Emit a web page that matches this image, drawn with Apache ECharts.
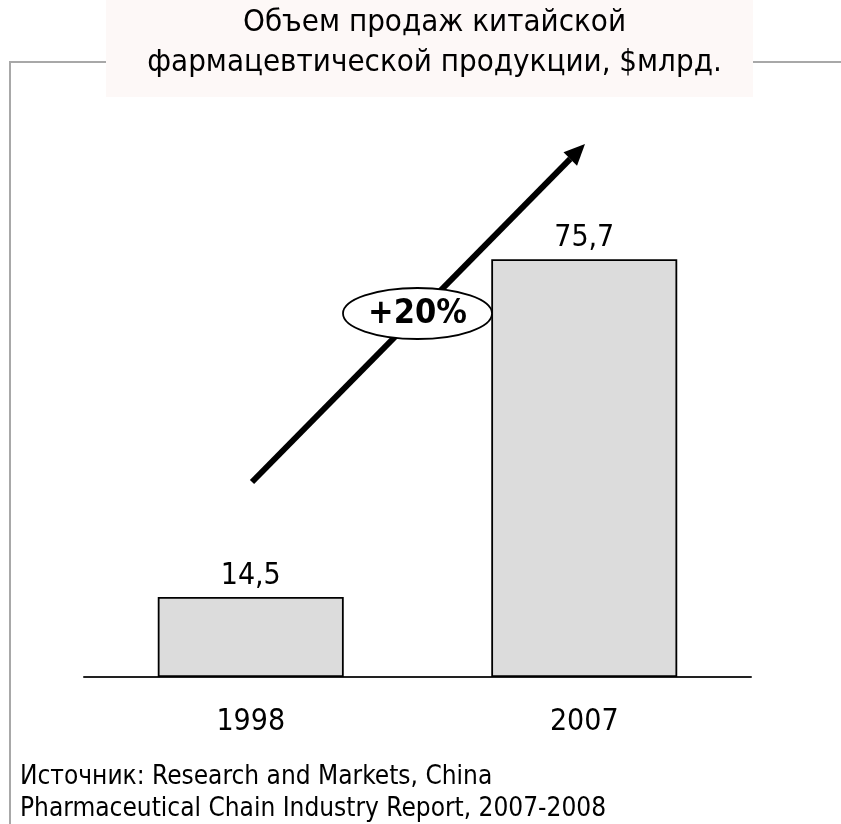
<!DOCTYPE html>
<html>
<head>
<meta charset="utf-8">
<script src="https://cdn.jsdelivr.net/npm/echarts@6/dist/echarts.min.js"></script>
<style>
html,body{margin:0;padding:0;background:#fff;}
#main{width:841px;height:824px;}
</style>
</head>
<body>
<div id="main"></div>
<script>
const categories = ['1998', '2007'];
const salesValues = [14.5, 75.7];
const titleText = 'Объем продаж китайской\nфармацевтической продукции, $млрд.';
const growthLabel = '+20%';
const sourceText = 'Источник: Research and Markets, China\nPharmaceutical Chain Industry Report, 2007-2008';

const FONT = '"DejaVu Sans Condensed", "DejaVu Sans", sans-serif';
const chart = echarts.init(document.getElementById('main'));

// arrow geometry
const tail = [252, 482], tip = [585, 144];
const dx = tip[0] - tail[0], dy = tip[1] - tail[1];
const len = Math.sqrt(dx * dx + dy * dy);
const ux = dx / len, uy = dy / len;
const headLen = 21, headHalf = 9.5;
const base = [tip[0] - ux * headLen, tip[1] - uy * headLen];
const nx = -uy, ny = ux;

chart.setOption({
  animation: false,
  backgroundColor: '#ffffff',
  title: {
    text: titleText,
    left: 429.5,
    textAlign: 'center',
    top: -2,
    textStyle: { fontFamily: FONT, fontSize: 31, fontWeight: 'normal', color: '#000', lineHeight: 40 }
  },
  grid: { left: 84, right: 90, top: 125, bottom: 147 },
  xAxis: {
    type: 'category',
    data: categories,
    axisLine: { lineStyle: { color: '#222', width: 2 } },
    axisTick: { show: false },
    axisLabel: { fontFamily: FONT, fontSize: 30, color: '#000', margin: 30 }
  },
  yAxis: {
    type: 'value', min: 0, max: 100,
    show: false
  },
  series: [{
    type: 'bar',
    data: salesValues,
    barWidth: 186,
    itemStyle: { color: '#dcdcdc', borderColor: '#000', borderWidth: 1.8 },
    label: {
      show: true, position: 'top', distance: 6,
      fontFamily: FONT, fontSize: 30, color: '#000',
      formatter: p => String(p.value).replace('.', ',')
    }
  }],
  graphic: [
    { type: 'rect', z: -1, shape: { x: 106, y: 0, width: 647, height: 97 }, style: { fill: '#fdf8f7' } },
    { type: 'polyline', shape: { points: [[10, 824], [10, 62], [106, 62]] }, style: { stroke: '#a8a8a8', lineWidth: 2, fill: null } },
    { type: 'line', shape: { x1: 753, y1: 62, x2: 841, y2: 62 }, style: { stroke: '#a8a8a8', lineWidth: 2 } },
    { type: 'line', z: 10, shape: { x1: tail[0], y1: tail[1], x2: base[0], y2: base[1] }, style: { stroke: '#000', lineWidth: 6 } },
    { type: 'polygon', z: 10, shape: { points: [tip, [base[0] + nx * headHalf, base[1] + ny * headHalf], [base[0] - nx * headHalf, base[1] - ny * headHalf]] }, style: { fill: '#000' } },
    { type: 'ellipse', z: 11, shape: { cx: 417.5, cy: 313.5, rx: 74.5, ry: 25.5 }, style: { fill: '#fff', stroke: '#000', lineWidth: 1.8 } },
    { type: 'text', z: 12, x: 417.5, y: 314, style: { text: growthLabel, align: 'center', verticalAlign: 'middle', font: 'bold 34px ' + FONT, fill: '#000' } },
    { type: 'text', x: 20, y: 761, style: { text: sourceText, font: '26px ' + FONT, lineHeight: 32, fill: '#000' } }
  ]
});
</script>
</body>
</html>
